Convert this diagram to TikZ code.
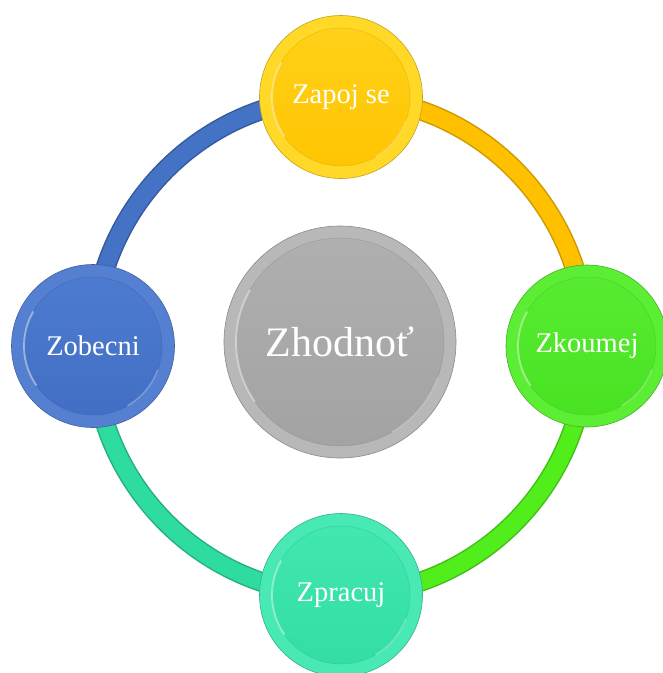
\documentclass[tikz,border=0pt]{standalone}
\usepackage{fontspec}
\setmainfont{Liberation Serif}
\usetikzlibrary{backgrounds}
\definecolor{rY}{HTML}{FFC000}
\definecolor{rG}{HTML}{52EE1C}
\definecolor{rT}{HTML}{2EDCA0}
\definecolor{rB}{HTML}{4472C4}
\definecolor{oY}{HTML}{FFD828}
\definecolor{iYt}{HTML}{FFD21A}
\definecolor{iYb}{HTML}{FFC400}
\definecolor{oG}{HTML}{5CEE34}
\definecolor{iGt}{HTML}{58EC32}
\definecolor{iGb}{HTML}{48E222}
\definecolor{oT}{HTML}{48E9B4}
\definecolor{iTt}{HTML}{42E8B0}
\definecolor{iTb}{HTML}{32DDA2}
\definecolor{oB}{HTML}{5580D2}
\definecolor{iBt}{HTML}{4E7CD0}
\definecolor{iBb}{HTML}{416EC2}
\definecolor{oK}{HTML}{B8B8B8}
\definecolor{iKt}{HTML}{B0B0B0}
\definecolor{iKb}{HTML}{A2A2A2}
\tikzset{
  ring/.style={line width=17pt, draw=#1, preaction={draw=#1!80!black, line width=20pt}},
  bub/.style n args={5}{circle, inner sep=0pt, minimum size=#5, text=white,
    fill=#1, draw=#1!75!black, line width=0.6pt,
    path picture={
      \shade[top color=#2, bottom color=#3]
        (path picture bounding box.center) circle[radius=#4];
      \draw[#3!85!black, line width=0.5pt, opacity=.5]
        (path picture bounding box.center) circle[radius=#4];
      \draw[white, opacity=.45, line width=1.8pt]
        (path picture bounding box.center) ++(150:#4) arc[start angle=150, end angle=215, radius=#4];
      \draw[white, opacity=.3, line width=1.4pt]
        (path picture bounding box.center) ++(-20:#4) arc[start angle=-20, end angle=-60, radius=#4];
    }},
  small/.style={font=\fontsize{28.5pt}{30pt}\selectfont},
  big/.style={font=\fontsize{42pt}{44pt}\selectfont}
}
\begin{document}
\begin{tikzpicture}[x=1pt,y=-1pt]
\useasboundingbox (0,0) rectangle (663,673);
\node[bub={oY}{iYt}{iYb}{69pt}{163pt}, small] (top) at (341,97) {Zapoj se};
\node[bub={oG}{iGt}{iGb}{69pt}{162pt}, small] (right) at (587,346) {Zkoumej};
\node[bub={oT}{iTt}{iTb}{69pt}{163pt}, small] (bottom) at (341,595) {Zpracuj};
\node[bub={oB}{iBt}{iBb}{69pt}{163pt}, small] (left) at (93,346) {Zobecni};
\node[bub={oK}{iKt}{iKb}{104pt}{232pt}, big] (center) at (340,342) {Zhodnoť};
\begin{scope}[on background layer]
\draw[ring=rY] (top.center) arc[start angle=-90, end angle=0, x radius=246, y radius=249];
\draw[ring=rG] (right.center) arc[start angle=0, end angle=90, x radius=246, y radius=249];
\draw[ring=rT] (bottom.center) arc[start angle=90, end angle=180, x radius=248, y radius=249];
\draw[ring=rB] (left.center) arc[start angle=180, end angle=270, x radius=248, y radius=249];
\end{scope}
\end{tikzpicture}
\end{document}
